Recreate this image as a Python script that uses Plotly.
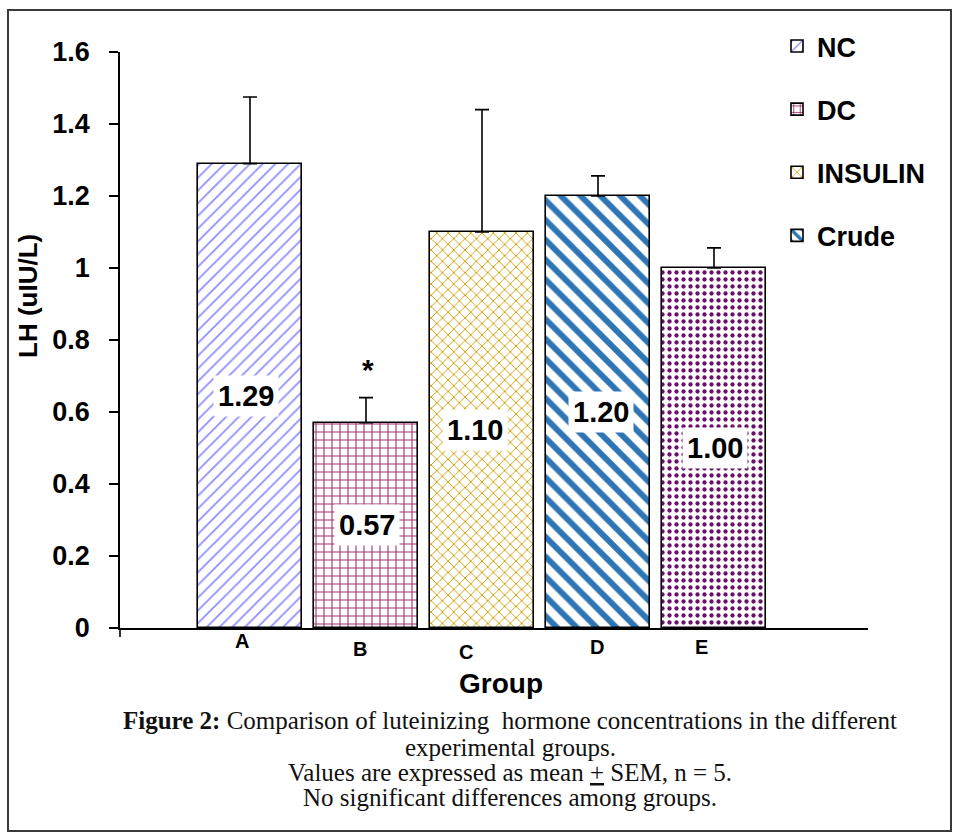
import plotly.graph_objects as go

# ---------------- data ----------------
groups = ["A", "B", "C", "D", "E"]
legend_names = ["NC", "DC", "INSULIN", "Crude", "E"]
show_in_legend = [True, True, True, True, False]
means = [1.29, 0.57, 1.10, 1.20, 1.00]
sem = [0.185, 0.07, 0.34, 0.056, 0.056]
value_labels = ["1.29", "0.57", "1.10", "1.20", "1.00"]
y_tick_vals = [0, 0.2, 0.4, 0.6, 0.8, 1.0, 1.2, 1.4, 1.6]
y_tick_text = ["0", "0.2", "0.4", "0.6", "0.8", "1", "1.2", "1.4", "1.6"]
star_group = 1
caption_lines = [
    "<b>Figure 2:</b> Comparison of luteinizing  hormone concentrations in the different",
    "experimental groups.",
    "Values are expressed as mean <u>+</u> SEM, n = 5.",
    "No significant differences among groups.",
]

# ---------------- styles ----------------
pattern_shapes = ["/", "+", "x", "\\", "."]
pattern_colors = ["#9090ff", "#a0306a", "#d0a000", "#2e75b6", "#6a106a"]
pattern_sizes = [9, 8, 8, 14, 7]
pattern_solid = [0.2, 0.25, 0.22, 0.42, 0.3]
label_dx = [-8, -6, -16, -1, -13]
label_dy = [-13, -21, -24, -19, -19]
value_dx = [-4, 1, -7, 3, 1]

W, H = 953, 832
L, R, T, B = 120, 868, 52, 628


def px(x):
    return (x - L) / (R - L)


def py(y):
    return (B - y) / (B - T)


FONT = "Arial, Liberation Sans"

fig = go.Figure()
for i, g in enumerate(groups):
    fig.add_trace(go.Bar(
        x=[i], y=[means[i]], width=0.9,
        name=legend_names[i], showlegend=show_in_legend[i],
        legendgroup=legend_names[i],
        marker=dict(
            color="white",
            line=dict(color="black", width=1.6),
            pattern=dict(shape=pattern_shapes[i], fgcolor=pattern_colors[i],
                         bgcolor="white", size=pattern_sizes[i], fgopacity=1,
                         solidity=pattern_solid[i], fillmode="overlay"),
        ),
        error_y=dict(type="data", array=[sem[i]], symmetric=False,
                     arrayminus=[0], color="black", thickness=1.6, width=7),
    ))

annotations = []
# value labels inside bars
for i, g in enumerate(groups):
    annotations.append(dict(
        x=i, y=means[i] / 2, xref="x", yref="y", text=value_labels[i],
        showarrow=False, bgcolor="white", borderpad=4, xshift=value_dx[i],
        xanchor="center", yanchor="middle",
        font=dict(family=FONT, size=29, color="black", weight="bold"),
    ))
# category labels
for i, g in enumerate(groups):
    annotations.append(dict(
        x=i, y=0, xref="x", yref="y", text=g, showarrow=False,
        xanchor="center", yanchor="middle",
        xshift=label_dx[i], yshift=label_dy[i],
        font=dict(family=FONT, size=20, color="black", weight="bold"),
    ))
# significance star
annotations.append(dict(
    x=star_group, y=means[star_group] + sem[star_group], xref="x", yref="y",
    text="*", showarrow=False, yshift=28, xshift=2,
    xanchor="center", yanchor="middle",
    font=dict(family=FONT, size=30, color="black", weight="bold"),
))
# axis titles
annotations.append(dict(
    x=px(501), y=py(683), xref="paper", yref="paper", text="Group",
    showarrow=False, xanchor="center", yanchor="middle",
    font=dict(family=FONT, size=28, color="black", weight="bold"),
))
annotations.append(dict(
    x=px(28), y=py(296), xref="paper", yref="paper", text="LH (uIU/L)",
    showarrow=False, textangle=-90, xanchor="center", yanchor="middle",
    font=dict(family=FONT, size=26, color="black", weight="bold"),
))
# caption
cap_y = [720, 747, 772, 797]
for t, yy in zip(caption_lines, cap_y):
    annotations.append(dict(
        x=px(510), y=py(yy), xref="paper", yref="paper", text=t,
        showarrow=False, xanchor="center", yanchor="middle",
        font=dict(family="Liberation Serif, Times New Roman", size=25, color="#111111"),
    ))

shapes = [
    # outer frame
    dict(type="rect", xref="paper", yref="paper",
         x0=px(8), x1=px(951), y0=py(831), y1=py(10),
         line=dict(color="#3a3a3a", width=2), fillcolor="rgba(0,0,0,0)", layer="below"),
    # x axis extension left of y axis
    dict(type="line", xref="paper", yref="paper", x0=px(110), x1=px(120),
         y0=0, y1=0, line=dict(color="black", width=1.6)),
    # x-axis tick below the origin
    dict(type="line", xref="paper", yref="paper", x0=0, x1=0,
         y0=py(637), y1=0, line=dict(color="black", width=1.6)),
]

fig.update_layout(
    width=W, height=H,
    margin=dict(l=L, r=W - R, t=T, b=H - B),
    paper_bgcolor="white", plot_bgcolor="white",
    barmode="overlay",
    bargap=0,
    showlegend=True,
    legend=dict(
        x=px(777), y=py(22), xanchor="left", yanchor="top",
        font=dict(family=FONT, size=27, color="black", weight="bold"),
        tracegroupgap=25, bgcolor="rgba(0,0,0,0)",
    ),
    xaxis=dict(
        range=[-1.1207, 5.3276], showticklabels=False, ticks="",
        showline=True, linecolor="black", linewidth=1.6,
        showgrid=False, zeroline=False, fixedrange=True,
    ),
    yaxis=dict(
        range=[0, 1.6], tickvals=y_tick_vals, ticktext=y_tick_text,
        ticks="outside", ticklen=9, tickcolor="black", tickwidth=1.6,
        showline=True, linecolor="black", linewidth=1.6,
        showgrid=False, zeroline=False, ticklabelstandoff=14,
        tickfont=dict(family=FONT, size=27, color="black", weight="bold"),
    ),
    annotations=annotations,
    shapes=shapes,
)

fig.write_html("out.html")
